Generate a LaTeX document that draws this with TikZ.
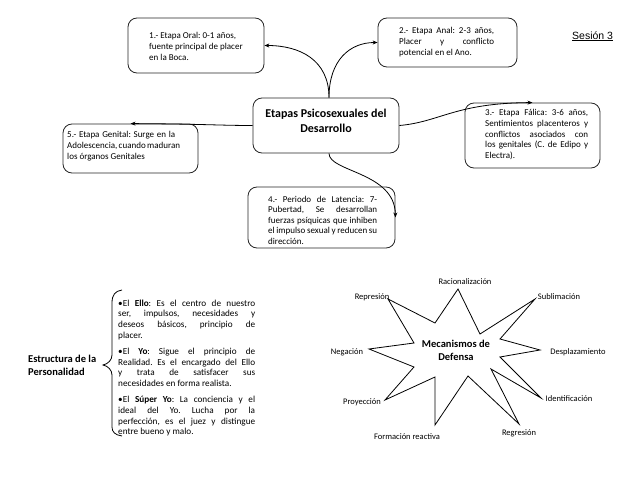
\documentclass[tikz,border=0pt]{standalone}
\usepackage{fontspec}
\setmainfont{Carlito}
\newfontfamily\arialfam{Liberation Sans}
\usetikzlibrary{arrows.meta}
\newcommand\jl[2]{\makebox[#1][s]{#2}}
\frenchspacing
\begin{document}
\begin{tikzpicture}[x=1pt,y=-1pt,
  box/.style={draw=black!85, line width=0.8pt, rounded corners=9pt, inner sep=0pt},
  txt/.style={font=\fontsize{9}{10.8}\selectfont, align=left, inner sep=0pt, anchor=north west},
  conn/.style={line width=0.8pt, -{Stealth[length=5pt,width=4pt]}},
  starlbl/.style={font=\fontsize{8.5}{10}\selectfont, inner sep=0pt},
  boldlbl/.style={font=\fontsize{10.5}{13}\selectfont\bfseries, inner sep=0pt}]
\useasboundingbox (0,0) rectangle (638,479);

% boxes
\node[box, minimum width=136pt, minimum height=55pt] (b1) at (196,45.5) {};
\node[box, minimum width=139pt, minimum height=49pt] (b2) at (447.5,42.5) {};
\node[box, minimum width=146pt, minimum height=55pt] (c) at (326,125.5) {};
\node[box, minimum width=135pt, minimum height=65pt] (b3) at (532.5,135.5) {};
\node[box, minimum width=135pt, minimum height=49pt] (b5) at (130.5,148.5) {};
\node[box, minimum width=147pt, minimum height=61pt] (b4) at (321.5,217.5) {};

% texts
\node[txt] (t1) at (149,32.5) {1.- Etapa Oral: 0-1 años,\\fuente principal de placer\\en la Boca.};
\node[txt] (t2) at (399,27.5) {\jl{95pt}{2.- Etapa Anal: 2-3 años,}\\\jl{95pt}{Placer y conflicto}\\potencial en el Ano.};
\node[font=\fontsize{12}{15}\selectfont\bfseries, align=center, inner sep=0pt] (ct) at (326,121) {Etapas Psicosexuales del\\Desarrollo};
\node[txt] (t3) at (485,109) {\jl{103pt}{3.- Etapa Fálica: 3-6 años,}\\\jl{103pt}{Sentimientos placenteros y}\\\jl{103pt}{conflictos asociados con}\\\jl{103pt}{los genitales (C. de Edipo y}\\Electra).};
\node[txt] (t5) at (67,131.5) {\jl{108pt}{5.- Etapa Genital: Surge en la}\\\jl{108pt}{Adolescencia, cuando maduran}\\los órganos Genitales};
\node[txt, font=\fontsize{9}{10.5}\selectfont] (t4) at (268,196) {\jl{109pt}{4.- Periodo de Latencia: 7-}\\\jl{109pt}{Pubertad, Se desarrollan}\\\jl{109pt}{fuerzas psíquicas que inhiben}\\\jl{109pt}{el impulso sexual y reducen su}\\dirección.};

\node[font=\arialfam\fontsize{10.5}{12}\selectfont, inner sep=0pt, anchor=base west] (ses) at (572,39) {\underline{Sesión 3}};

% connectors
\draw[conn] ([xshift=3pt]c.north) .. controls (329,60) and (300,45.5) .. (b1.east);
\draw[conn] ([xshift=3pt]c.north) .. controls (329,60) and (350,42.5) .. (b2.west);
\draw[conn] (c.west) .. controls (220,125.5) and (205,124) .. (b5.north);
\draw[conn] (c.east) .. controls (440,122) and (455,103) .. (b3.north);
\draw[conn] ([xshift=3pt]c.south) .. controls (329,172) and (395,172) .. (b4.east);

% personality structure
\node[boldlbl, align=left, anchor=north west] (est) at (28,355) {Estructura de la\\Personalidad};
\draw[line width=0.8pt] (122,290) .. controls (115,291) and (112,295) .. (112,303)
  -- (112,355) .. controls (112,360) and (108,364) .. (103,365)
  .. controls (108,366) and (112,370) .. (112,375) -- (112,427)
  .. controls (112,432) and (115,435) .. (122,436);
\node[txt, font=\fontsize{9.2}{10.8}\selectfont] (ego) at (118,299.5) {%
\jl{137pt}{•El \textbf{Ello}: Es el centro de nuestro}\\
\jl{137pt}{ser, impulsos, necesidades y}\\
\jl{137pt}{deseos básicos, principio de}\\
placer.\\[5pt]
\jl{137pt}{•El \textbf{Yo}: Sigue el principio de}\\
\jl{137pt}{Realidad. Es el encargado del Ello}\\
\jl{137pt}{y trata de satisfacer sus}\\
necesidades en forma realista.\\[5pt]
\jl{137pt}{•El \textbf{Súper Yo}: La conciencia y el}\\
\jl{137pt}{ideal del Yo. Lucha por la}\\
\jl{137pt}{perfección, es el juez y distingue}\\
entre bueno y malo.};

% star
\draw[line width=0.8pt, line join=miter]
 (458,289) -- (480,334) -- (535,299) -- (500,339) -- (540,350) -- (500,357)
 -- (541,398) -- (491,369) -- (519,424) -- (468,376) -- (435,425) -- (435,377)
 -- (385,400) -- (414,367) -- (369,349) -- (414,343) -- (388,299) -- (435,323) -- cycle;
\node[boldlbl, align=center] (mec) at (456,350) {Mecanismos de\\Defensa};

\node[starlbl] (l1) at (465,282) {Racionalización};
\node[starlbl] (l2) at (372,297) {Represión};
\node[starlbl] (l3) at (559,297) {Sublimación};
\node[starlbl] (l4) at (347,352) {Negación};
\node[starlbl] (l5) at (578,352) {Desplazamiento};
\node[starlbl] (l6) at (362,402) {Proyección};
\node[starlbl] (l7) at (569,399) {Identificación};
\node[starlbl] (l8) at (519,433) {Regresión};
\node[starlbl] (l9) at (407,437) {Formación reactiva};
\end{tikzpicture}
\end{document}
